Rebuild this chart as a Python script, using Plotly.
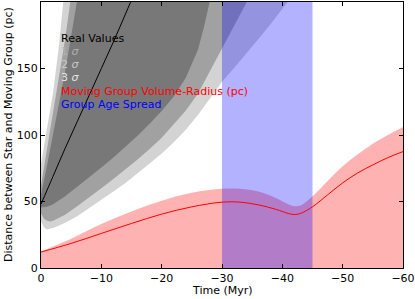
import plotly.graph_objects as go

# ---- data (time in Myr, negative = past; distances in pc) ----
real_t = [0, -2, -4, -6, -8, -10, -12, -14, -16]
real_d = [48, 69, 90, 110, 130, 150, 170, 191, 212]

s1_low_t = [0, -1, -2, -4, -6, -8, -10, -12, -14, -16, -18, -20, -22, -24, -26, -27, -28, -29]
s1_low_d = [45.5, 46, 48, 54, 61, 68, 75.5, 83, 91, 99.5, 108.5, 118, 129, 143, 164, 181, 201, 222]
s1_up_t = [0, -1, -2, -3, -4, -5, -6, -7]
s1_up_d = [55, 77, 100, 124, 148, 174, 201, 228]

s2_low_t = [0, -0.5, -1, -1.5, -2, -3, -4, -6, -8, -10, -12, -14, -16, -18, -20, -22, -24, -26, -28, -30, -32, -34, -36]
s2_low_d = [41, 37, 35.5, 35, 35.5, 37.5, 40, 46.5, 53, 60, 67, 74, 81.5, 89.5, 98, 108, 118.5, 131, 148, 166, 183, 199, 215]
s2_up_t = [0, -1, -2, -3, -4, -5]
s2_up_d = [62, 90, 118, 145, 172, 205]

s3_low_t = [0, -0.5, -1, -1.5, -2, -3, -4, -6, -8, -10, -12, -14, -16, -18, -20, -22, -24, -26, -28, -30, -32, -34, -36, -38, -40, -42]
s3_low_d = [35, 30.5, 29, 29.3, 30, 32, 34, 39, 45, 51.5, 57.5, 64, 71, 78.5, 86, 94.5, 104, 115, 127.5, 140, 150.3, 160.8, 171.9, 183.1, 194.7, 206.6]
s3_up_t = [0, -1, -2, -3, -4]
s3_up_d = [78, 104, 132, 168, 215]

mg_t = [0, -5, -10, -15, -20, -25, -30, -33, -36, -39, -41, -42, -43, -45, -47.5, -50, -52.5, -55, -57.5, -60]
mg_radius = [12, 18.5, 26, 33.5, 40.5, 46, 49.5, 49.5, 47.5, 44, 41, 40.2, 41, 46, 55, 64, 71.5, 77.5, 83, 87.5]
mg_radius_up = [12.5, 22, 33, 42.5, 50.5, 56.5, 59.5, 59.5, 57.5, 52.5, 48, 46.5, 47, 54, 65.5, 76.5, 85.5, 93.5, 100, 106]

age_spread = [-30, -45]

x_ticks = [0, -10, -20, -30, -40, -50, -60]
y_ticks = [0, 50, 100, 150]

FONT = "DejaVu Sans"
W, H = 415, 299
ML, MR, MT, MB = 41, 12, 2, 31

fig = go.Figure()


def band(lt, ld, ut, ud, color):
    xs = list(lt) + list(reversed(ut))
    ys = list(ld) + list(reversed(ud))
    fig.add_trace(go.Scatter(x=xs, y=ys, fill="toself", fillcolor=color,
                             mode="lines", line=dict(width=0), hoverinfo="skip",
                             showlegend=False))


band(s3_low_t, s3_low_d, s3_up_t, s3_up_d, "rgb(211,211,211)")
band(s2_low_t, s2_low_d, s2_up_t, s2_up_d, "rgb(161,161,161)")
band(s1_low_t, s1_low_d, s1_up_t, s1_up_d, "rgb(120,120,120)")

# moving group radius fill
fig.add_trace(go.Scatter(x=mg_t, y=mg_radius_up, fill="tozeroy",
                         fillcolor="rgba(255,0,0,0.3)", mode="lines",
                         line=dict(width=0, shape="spline"), hoverinfo="skip", showlegend=False))

# real values
fig.add_trace(go.Scatter(x=real_t, y=real_d, mode="lines",
                         line=dict(color="black", width=1, shape="spline"), showlegend=False))

# age spread
fig.add_trace(go.Scatter(x=[age_spread[0], age_spread[1], age_spread[1], age_spread[0]],
                         y=[0, 0, 200, 200], fill="toself", fillcolor="rgba(0,0,255,0.3)",
                         mode="lines", line=dict(width=0), hoverinfo="skip", showlegend=False))

# radius line
fig.add_trace(go.Scatter(x=mg_t, y=mg_radius, mode="lines",
                         line=dict(color="red", width=1, shape="spline"), showlegend=False))

legend_items = [
    ("Real Values", "black"),
    ("1 <i>σ</i>", "#b0b0b0"),
    ("2 <i>σ</i>", "#c8c8c8"),
    ("3 <i>σ</i>", "#e6e6e6"),
    ("Moving Group Volume-Radius (pc)", "red"),
    ("Group Age Spread", "blue"),
]
legend_py = [38, 51, 64, 77.5, 91, 104.3]
pw = W - ML - MR
ph = H - MT - MB
for (txt, col), py in zip(legend_items, legend_py):
    fig.add_annotation(x=(59 - ML) / pw, y=(H - MB - py) / ph, xref="paper", yref="paper",
                       text=txt, showarrow=False, xanchor="left", yanchor="middle",
                       font=dict(family=FONT, size=11, color=col))

# axis titles
fig.add_annotation(x=0.5, y=(H - MB - 290) / ph, xref="paper", yref="paper",
                   text="Time (Myr)", showarrow=False, xanchor="center", yanchor="middle",
                   font=dict(family=FONT, size=11, color="black"))
fig.add_annotation(x=(8 - ML) / pw, y=0.5, xref="paper", yref="paper", textangle=-90,
                   text="Distance between Star and Moving Group (pc)", showarrow=False,
                   xanchor="center", yanchor="middle",
                   font=dict(family=FONT, size=11, color="black"))

axis_common = dict(showline=True, linecolor="black", linewidth=1, mirror="ticks",
                   ticks="inside", ticklen=4, tickcolor="black", tickwidth=1,
                   showgrid=False, zeroline=False, automargin=False,
                   tickfont=dict(family=FONT, size=11, color="black"))

fig.update_xaxes(range=[0, -60], tickvals=x_ticks, **axis_common)
fig.update_yaxes(range=[0, 200], tickvals=y_ticks, **axis_common)

fig.update_layout(width=W, height=H, margin=dict(l=ML, r=MR, t=MT, b=MB, autoexpand=False),
                  plot_bgcolor="white", paper_bgcolor="white",
                  font=dict(family=FONT, size=11, color="black"), showlegend=False)

fig.write_html("out.html", config={"displayModeBar": False},
               post_script="document.body.style.margin='0';document.body.style.padding='0';")
